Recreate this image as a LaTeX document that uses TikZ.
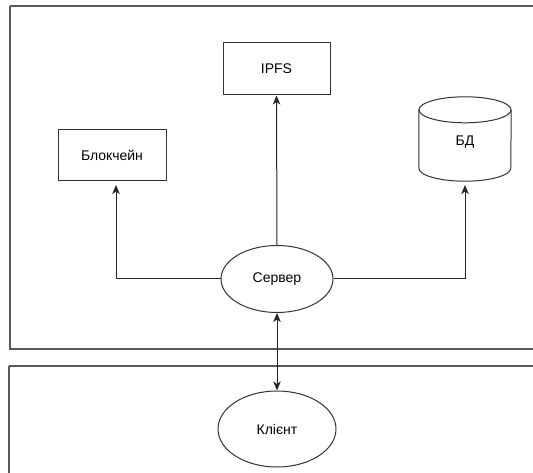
\documentclass[tikz,border=0pt]{standalone}
\usepackage{fontspec}
\setmainfont{Liberation Sans}
\usetikzlibrary{shapes.geometric,arrows.meta}
\begin{document}
\begin{tikzpicture}[x=1pt,y=-1pt,
  every node/.style={font=\fontsize{14}{16}\selectfont, text=black},
  boxnode/.style={draw=black!80, line width=1pt, rectangle, inner sep=0pt},
  ellnode/.style={draw=black!80, line width=1pt, ellipse, inner sep=0pt},
  cyl/.style={draw=black!80, line width=1pt},
  container/.style={draw=black!65, line width=1.3pt},
  conn/.style={draw=black!85, line width=1pt},
  tip/.style={-{Stealth[length=9pt,width=7.5pt,inset=2.5pt]}}
]
\useasboundingbox (0,0) rectangle (533,473);
% containers
\draw[container] (10,6) -- (540,6) (10,6) -- (10,349) -- (540,349);
\draw[container] (9,366) -- (540,366) (9,366) -- (9,480);
% nodes
\node[boxnode, minimum width=107pt, minimum height=52pt] (ipfs) at (276.5,69) {IPFS};
\node[boxnode, minimum width=108pt, minimum height=51pt] (blk) at (112,155.5) {Блокчейн};
\node[ellnode, minimum width=112pt, minimum height=67pt] (srv) at (277,279) {Сервер};
\node[ellnode, minimum width=118pt, minimum height=76pt] (cli) at (277,429) {Клієнт};
% database cylinder
\node[minimum width=92pt, minimum height=84pt, inner sep=0pt] (db) at (465,139) {};
\draw[cyl, fill=white] ([yshift=-13pt]db.north west) -- ([yshift=13pt]db.south west)
  arc[start angle=180, end angle=360, x radius=46pt, y radius=13pt]
  -- ([yshift=-13pt]db.north east);
\draw[cyl] ([yshift=-13pt]db.north) ellipse[x radius=46pt, y radius=13pt];
\node at (465,142) {БД};
% connectors
\coordinate (blkin) at (116,185);
\coordinate (dbin) at (465,185);
\draw[conn, tip] (srv.north) -- (ipfs.south);
\draw[conn, tip] (srv.west) -| (blkin);
\draw[conn, tip] (srv.east) -| (dbin);
\draw[conn, {Stealth[length=9pt,width=7.5pt,inset=2.5pt]}-{Stealth[length=9pt,width=7.5pt,inset=2.5pt]}] (srv.south) -- (cli.north);
\end{tikzpicture}
\end{document}
